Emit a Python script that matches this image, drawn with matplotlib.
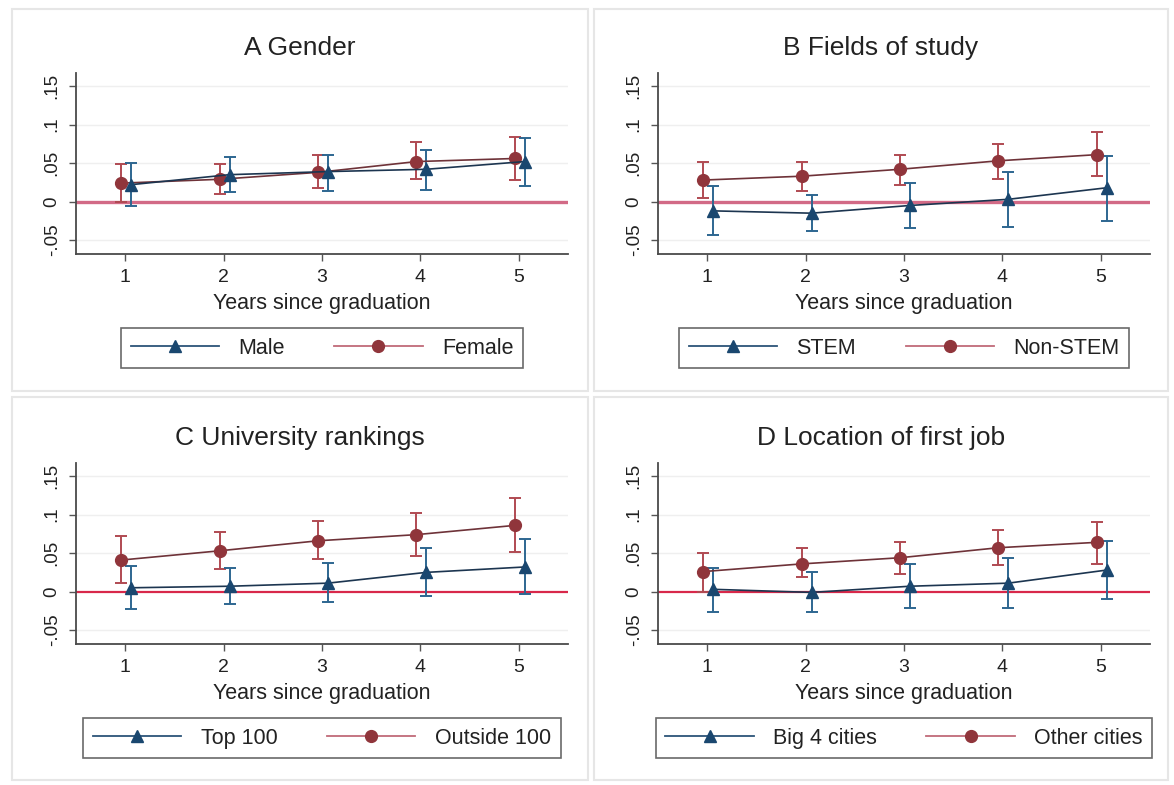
import matplotlib
matplotlib.use("Agg")
import matplotlib.pyplot as plt
from matplotlib.lines import Line2D
from matplotlib.patches import Rectangle

plt.rcParams["font.family"] = ["Liberation Sans", "DejaVu Sans"]

W, H = 1174, 785

years = [1, 2, 3, 4, 5]
ytick_vals = [-0.05, 0, 0.05, 0.1, 0.15]
ytick_labels = ["-.05", "0", ".05", ".1", ".15"]

# A Gender
male = [0.022, 0.035, 0.039, 0.042, 0.052]
male_lo = [-0.006, 0.012, 0.014, 0.015, 0.020]
male_hi = [0.050, 0.058, 0.061, 0.067, 0.082]
female = [0.024, 0.029, 0.038, 0.052, 0.056]
female_lo = [0.000, 0.010, 0.018, 0.029, 0.028]
female_hi = [0.049, 0.049, 0.060, 0.077, 0.084]

# B Fields of study
stem = [-0.012, -0.015, -0.005, 0.003, 0.018]
stem_lo = [-0.043, -0.038, -0.034, -0.033, -0.025]
stem_hi = [0.020, 0.009, 0.024, 0.038, 0.059]
nonstem = [0.028, 0.033, 0.042, 0.053, 0.061]
nonstem_lo = [0.005, 0.014, 0.022, 0.030, 0.033]
nonstem_hi = [0.051, 0.052, 0.061, 0.075, 0.090]

# C University rankings
top100 = [0.005, 0.007, 0.011, 0.025, 0.032]
top100_lo = [-0.023, -0.016, -0.014, -0.006, -0.003]
top100_hi = [0.033, 0.031, 0.037, 0.056, 0.068]
outside100 = [0.041, 0.053, 0.066, 0.074, 0.086]
outside100_lo = [0.011, 0.029, 0.042, 0.046, 0.051]
outside100_hi = [0.072, 0.077, 0.092, 0.102, 0.121]

# D Location of first job
big4 = [0.003, -0.001, 0.007, 0.011, 0.028]
big4_lo = [-0.026, -0.027, -0.021, -0.021, -0.009]
big4_hi = [0.031, 0.026, 0.036, 0.044, 0.066]
other = [0.026, 0.036, 0.044, 0.057, 0.064]
other_lo = [0.000, 0.019, 0.023, 0.034, 0.036]
other_hi = [0.050, 0.057, 0.065, 0.080, 0.091]

panels = [
    ("A Gender", ("Male", male, male_lo, male_hi), ("Female", female, female_lo, female_hi)),
    ("B Fields of study", ("STEM", stem, stem_lo, stem_hi), ("Non-STEM", nonstem, nonstem_lo, nonstem_hi)),
    ("C University rankings", ("Top 100", top100, top100_lo, top100_hi),
     ("Outside 100", outside100, outside100_lo, outside100_hi)),
    ("D Location of first job", ("Big 4 cities", big4, big4_lo, big4_hi),
     ("Other cities", other, other_lo, other_hi)),
]

# layout in pixels: axes left/top, panel frame box, zero line style
axes_px = [(76, 73), (658, 73), (76, 463), (658, 463)]
frames_px = [(12, 9, 576, 382), (594, 9, 574, 382), (12, 397, 576, 383), (594, 397, 574, 383)]
zero_style = [("#d26a86", 2.4), ("#d26a86", 2.4), ("#d8284a", 1.6), ("#d8284a", 1.6)]
AX_W, AX_H = 492, 181

BLUE = "#1a476f"
BLUE_CI = "#2d6690"
BLUE_LN = "#1c3550"
RED = "#90353b"
RED_CI = "#b04a52"
RED_LN = "#6e3238"
TXT = "#222222"

fig = plt.figure(figsize=(W / 100, H / 100), dpi=100)
fig.patch.set_facecolor("white")

for (fx, fy, fw, fh) in frames_px:
    fig.patches.append(Rectangle((fx / W, 1 - (fy + fh) / H), fw / W, fh / H,
                                 transform=fig.transFigure, fill=False,
                                 edgecolor="#e6e6e6", lw=1.5))

for (title, s_blue, s_red), (left, top), frame, (zc, zw) in zip(panels, axes_px, frames_px, zero_style):
    ax = fig.add_axes([left / W, 1 - (top + AX_H) / H, AX_W / W, AX_H / H])
    ax.set_xlim(0.5, 5.5)
    ax.set_ylim(-0.068, 0.167)

    for v in ytick_vals:
        if v != 0:
            ax.axhline(v, color="#efefef", lw=1.0, zorder=0)
    ax.axhline(0, color=zc, lw=zw, zorder=1)

    xb = [x + 0.06 for x in years]
    xr = [x - 0.04 for x in years]

    name_b, vb, lob, hib = s_blue
    name_r, vr, lor, hir = s_red

    ax.errorbar(xr, vr, yerr=[[v - l for v, l in zip(vr, lor)], [h - v for v, h in zip(vr, hir)]],
                fmt="none", ecolor=RED_CI, elinewidth=1.4, capsize=4.3, capthick=1.4, zorder=2)
    ax.errorbar(xb, vb, yerr=[[v - l for v, l in zip(vb, lob)], [h - v for v, h in zip(vb, hib)]],
                fmt="none", ecolor=BLUE_CI, elinewidth=1.4, capsize=4.3, capthick=1.4, zorder=2)
    ax.plot(xr, vr, color=RED_LN, lw=1.2, marker="o", markersize=8.5,
            markerfacecolor=RED, markeredgecolor=RED, zorder=3)
    ax.plot(xb, vb, color=BLUE_LN, lw=1.2, marker="^", markersize=8.5,
            markerfacecolor=BLUE, markeredgecolor=BLUE, zorder=4)

    for side in ["top", "right"]:
        ax.spines[side].set_visible(False)
    for side in ["left", "bottom"]:
        ax.spines[side].set_color("#4a4a4a")
        ax.spines[side].set_linewidth(1.3)

    ax.set_xticks(years)
    ax.set_xticklabels([str(y) for y in years], fontsize=14, color=TXT)
    ax.set_yticks(ytick_vals)
    ax.set_yticklabels(ytick_labels, fontsize=13.5, color=TXT, rotation=90, va="center")
    ax.tick_params(axis="x", length=5, width=1.0, color="#555555", pad=6)
    ax.tick_params(axis="y", length=5, width=1.0, color="#555555", pad=6)

    cx = (left + AX_W / 2) / W
    fx = (frame[0] + frame[2] / 2) / W
    fig.text(fx, 1 - (top - 25) / H, title, fontsize=19, color=TXT, ha="center", va="center")
    fig.text(cx, 1 - (top + AX_H + 50) / H, "Years since graduation", fontsize=15.5,
             color=TXT, ha="center", va="center")

    handles = [
        Line2D([], [], color="#2c5478", lw=1.3, marker="^", markersize=8.5,
               markerfacecolor=BLUE, markeredgecolor=BLUE),
        Line2D([], [], color="#c06a78", lw=1.3, marker="o", markersize=8.5,
               markerfacecolor=RED, markeredgecolor=RED),
    ]
    leg = ax.legend(handles, [name_b, name_r], loc="upper center",
                    bbox_to_anchor=(cx, 1 - (top + AX_H + 74) / H), bbox_transform=fig.transFigure,
                    ncol=2, fontsize=15.5, frameon=True, fancybox=False, borderaxespad=0,
                    handlelength=4.1, handletextpad=0.9, columnspacing=2.3, borderpad=0.45)
    leg.get_frame().set_edgecolor("#444444")
    leg.get_frame().set_linewidth(1.2)
    for t in leg.get_texts():
        t.set_color(TXT)

fig.savefig("out.png", dpi=100)
